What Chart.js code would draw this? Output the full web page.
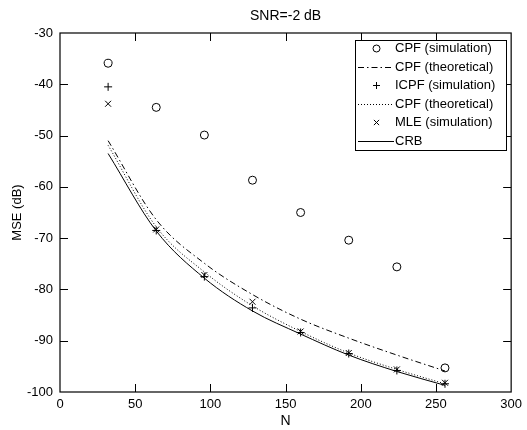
<!DOCTYPE html>
<html>
<head>
<meta charset="utf-8">
<script src="https://cdn.jsdelivr.net/npm/chart.js@4/dist/chart.umd.min.js"></script>
<style>
html,body{margin:0;padding:0;background:#fff;}
#wrap{width:527px;height:430px;position:relative;}
</style>
</head>
<body>
<div id="wrap"><canvas id="c" width="527" height="430"></canvas></div>
<script>
const titleText = 'SNR=-2 dB';
const xLabel = 'N';
const yLabel = 'MSE (dB)';
const N = [32, 64, 96, 128, 160, 192, 224, 256];
const cpfSim   = [-35.9, -44.5, -49.9, -58.7, -65.0, -70.4, -75.6, -95.3];
const cpfTheo  = [-51.0, -66.4, -74.9, -81.0, -85.8, -89.5, -92.8, -95.9];
const icpfSim  = [-40.5, -68.5, -77.5, -83.6, -88.4, -92.5, -95.8, -98.4];
const cpfTheo2 = [-51.9, -67.8, -76.6, -83.2, -88.2, -92.4, -95.6, -98.4];
const mleSim   = [-43.8, -68.3, -77.2, -82.4, -88.2, -92.4, -95.6, -98.2];
const crb      = [-53.5, -68.6, -77.8, -84.2, -88.7, -92.8, -96.0, -98.7];
const seriesNames = ['CPF (simulation)', 'CPF (theoretical)', 'ICPF (simulation)', 'CPF (theoretical)', 'MLE (simulation)', 'CRB'];
const xTicks = [0, 50, 100, 150, 200, 250, 300];
const yTicks = [-100, -90, -80, -70, -60, -50, -40, -30];

const FONT = '"Liberation Sans", Arial, Helvetica, sans-serif';
const pts = arr => arr.map((v, i) => ({x: N[i], y: v}));

const markerDs = (label, data, style, r) => ({
  label, data: pts(data), showLine: false, pointStyle: style,
  pointRadius: r, pointHoverRadius: r, pointBorderColor: '#000',
  pointBackgroundColor: 'rgba(0,0,0,0)', pointBorderWidth: 1, borderColor: '#000'
});
const lineDs = (label, data, dash) => ({
  label, data: pts(data), showLine: true, pointRadius: 0, borderColor: '#000',
  borderWidth: 1, borderDash: dash, cubicInterpolationMode: 'monotone', fill: false
});

const datasets = [
  markerDs(seriesNames[0], cpfSim, 'circle', 4),
  lineDs(seriesNames[1], cpfTheo, [6, 3, 1.5, 3]),
  markerDs(seriesNames[2], icpfSim, 'cross', 4),
  lineDs(seriesNames[3], cpfTheo2, [1, 2]),
  markerDs(seriesNames[4], mleSim, 'crossRot', 4.2),
  lineDs(seriesNames[5], crb, [])
];

const framePlugin = {
  id: 'frame',
  afterDatasetsDraw(chart) {
    const ctx = chart.ctx;
    const a = chart.chartArea;
    const xs = chart.scales.x, ys = chart.scales.y;
    ctx.save();
    ctx.strokeStyle = '#000';
    ctx.lineWidth = 1.2;
    ctx.strokeRect(a.left, a.top, a.right - a.left, a.bottom - a.top);
    ctx.lineWidth = 1;
    const L = 8;
    ctx.beginPath();
    xTicks.forEach(v => {
      if (v === xs.min || v === xs.max) return;
      const px = Math.round(xs.getPixelForValue(v)) + 0.5;
      ctx.moveTo(px, a.bottom); ctx.lineTo(px, a.bottom - L);
      ctx.moveTo(px, a.top); ctx.lineTo(px, a.top + L);
    });
    yTicks.forEach(v => {
      if (v === ys.min || v === ys.max) return;
      const py = Math.round(ys.getPixelForValue(v)) + 0.5;
      ctx.moveTo(a.left, py); ctx.lineTo(a.left + L, py);
      ctx.moveTo(a.right, py); ctx.lineTo(a.right - L, py);
    });
    ctx.stroke();

    // title
    ctx.fillStyle = '#000';
    ctx.font = '14px ' + FONT;
    ctx.textAlign = 'center';
    ctx.textBaseline = 'middle';
    ctx.fillText(titleText, (a.left + a.right) / 2, 16.5);

    // legend
    const bx = 355, by = 40, bw = 151, bh = 110;
    ctx.fillStyle = '#fff';
    ctx.fillRect(bx, by, bw, bh);
    ctx.lineWidth = 1;
    ctx.strokeStyle = '#000';
    ctx.strokeRect(bx + 0.5, by + 0.5, bw, bh);
    ctx.font = '13px ' + FONT;
    ctx.textAlign = 'left';
    ctx.textBaseline = 'middle';
    const rowH = 18.5;
    chart.data.datasets.forEach((ds, i) => {
      const cy = by + 8 + i * rowH;
      const x0 = bx + 3, x1 = bx + 39, cx = (x0 + x1) / 2;
      if (ds.showLine) {
        ctx.save();
        ctx.setLineDash(ds.borderDash || []);
        ctx.lineWidth = 1;
        ctx.beginPath();
        ctx.moveTo(x0, Math.round(cy) + 0.5);
        ctx.lineTo(x1, Math.round(cy) + 0.5);
        ctx.stroke();
        ctx.restore();
      } else {
        ctx.save();
        ctx.lineWidth = 1;
        ctx.strokeStyle = '#000';
        ctx.fillStyle = 'rgba(0,0,0,0)';
        Chart.helpers.drawPoint(ctx, {pointStyle: ds.pointStyle, radius: ds.pointRadius - 0.5, borderWidth: 1, rotation: 0}, Math.round(cx) + 0.5, Math.round(cy) + 0.5);
        ctx.restore();
      }
      ctx.fillStyle = '#000';
      ctx.fillText(ds.label, bx + 40, cy + 0.5);
    });
    ctx.restore();
  }
};

new Chart(document.getElementById('c'), {
  type: 'scatter',
  data: { datasets },
  options: {
    responsive: false,
    animation: false,
    devicePixelRatio: 1,
    layout: { padding: { top: 33, right: 15, bottom: 0, left: 0 } },
    plugins: { legend: { display: false }, title: { display: false }, tooltip: { enabled: false } },
    scales: {
      x: {
        type: 'linear', min: 0, max: 300,
        afterBuildTicks: s => { s.ticks = xTicks.map(v => ({value: v})); },
        afterFit: s => { s.height = 38; },
        grid: { display: false, drawTicks: false },
        border: { display: false },
        ticks: { color: '#000', font: { family: FONT, size: 13 }, padding: 5, maxRotation: 0 },
        title: { display: true, text: xLabel, color: '#000', font: { family: FONT, size: 14 }, padding: { top: 0, bottom: 0 } }
      },
      y: {
        type: 'linear', min: -100, max: -30,
        afterBuildTicks: s => { s.ticks = yTicks.map(v => ({value: v})); },
        afterFit: s => { s.width = 60; },
        grid: { display: false, drawTicks: false },
        border: { display: false },
        ticks: { color: '#000', font: { family: FONT, size: 13 }, padding: 7 },
        title: { display: true, text: yLabel, color: '#000', font: { family: FONT, size: 13 }, padding: { top: 10, bottom: 0 } }
      }
    }
  },
  plugins: [framePlugin]
});
</script>
</body>
</html>
